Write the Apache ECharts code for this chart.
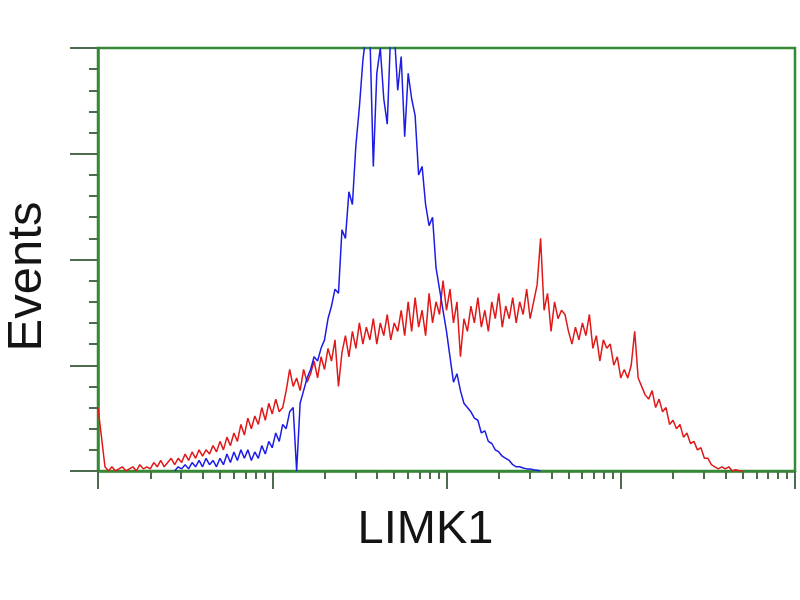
<!DOCTYPE html>
<html><head><meta charset="utf-8">
<script src="https://cdn.jsdelivr.net/npm/echarts@6/dist/echarts.min.js"></script>
<style>html,body{margin:0;padding:0;background:#fff}#c{width:800px;height:600px}</style>
</head><body><div id="c"></div>
<script>
// Histogram channels (0..199) spanning 4 log decades (1 .. 10^4)
const channelCount = 200;
const redStart = 0;
const redValues = [
15,8,1,0,1,0,0.5,1,0,0.5, 1,0,1.5,0.5,1,0.5,2,1,2.5,1,
2,3,1.5,3,2,4,2.5,4.5,3,5, 3.5,5,4,6,4.5,7,5,8,6,9,
7,11,8.5,12.5,10,13,11,15,12,16, 13.5,17,14,15,19,24,20,22,19,24,
21,23,26,22,27,24,29,26,31,20, 28,32,27,33,29,35,30,34,31,36,
30,35,32,37,31,35,33,38,32,40, 33,41,34,38,32,42,35,40,37,45,
38,43,35,40,27,36,33,39,35,41, 34,38,33,40,36,42,34,39,36,41,
35,40,37,43,36,40,44,55,38,42, 33,40,36,38,37,33,30,34,31,35,
32,37,29,32,26,31,29,30,25,27, 22,24,22,25,33,22,20,18,17,19,
15,17,14,15,11,12,10,11,8,9, 6.5,7,5,5.5,3,3,1.5,1,0.5,1,
0.5,1,0,0.3,0,0
];
const blueStart = 22;
const blueValues = [
0,1,0.5,1.5,0.5,2,1,2.5,1,3, 1.5,2.5,1,3,1.5,4,2,4.5,2.5,5,
3,5,2.5,4.5,3,6,4,7,5.5,9, 7,11,10,14,15,0,16,19,22,24,
27,26,29,31,36,39,43,42,57,55, 66,63,77,86,97,104,104,72,94,100,
88,82,104,104,90,98,79,94,88,84, 70,72,63,58,60,48,43,38,33,27,
21,23,19,16,15,14,12.5,12,9,9.5, 7,6.5,5,4.5,3.5,3,2.5,1.5,1,1,
0.7,0.5,0.5,0.3,0.2,0
];
const majorDecades = [1, 10, 100, 1000, 10000];
const minorMultipliers = [2,3,4,5,6,7,8,9];
const yTicks = [0, 25, 50, 75, 100];

const toPairs = (start, arr) => arr.map((v, i) => [start + i, v]);
const minorValues = [];
majorDecades.slice(0, -1).forEach(d => minorMultipliers.forEach(m => minorValues.push(d * m)));

const green = '#358a35';
const tickColor = '#4d6b4d';
const chart = echarts.init(document.getElementById('c'));
chart.setOption({
  animation: false,
  backgroundColor: '#fff',
  grid: {left: 98, right: 5, top: 48, bottom: 129, outerBoundsMode: 'none', containLabel: false,
         show: true, borderColor: green, borderWidth: 2.5, backgroundColor: 'transparent'},
  xAxis: [
    {type: 'value', min: 0, max: channelCount, show: false},
    {type: 'log', logBase: 10, min: majorDecades[0], max: majorDecades[majorDecades.length-1], position: 'bottom',
     name: 'LIMK1', nameLocation: 'middle', nameGap: 36,
     nameTextStyle: {fontFamily: 'Liberation Sans', fontSize: 47, color: '#141414', padding: [0, 42, 0, 0]},
     axisLine: {show: true, lineStyle: {color: green, width: 2.5}},
     axisTick: {show: true, length: 18, lineStyle: {color: tickColor, width: 2}, customValues: majorDecades},
     axisLabel: {show: false}, splitLine: {show: false}},
    {type: 'log', logBase: 10, min: majorDecades[0], max: majorDecades[majorDecades.length-1], position: 'bottom',
     axisLine: {show: false},
     axisTick: {show: true, length: 8, lineStyle: {color: tickColor, width: 2}, customValues: minorValues},
     axisLabel: {show: false}, splitLine: {show: false}}
  ],
  yAxis: [{
    type: 'value', min: yTicks[0], max: yTicks[yTicks.length-1], interval: 25,
    name: 'Events', nameLocation: 'middle', nameGap: 46,
    nameTextStyle: {fontFamily: 'Liberation Sans', fontSize: 49, color: '#141414', padding: [0, 34, 0, 0]},
    axisLine: {show: true, lineStyle: {color: green, width: 2.5}},
    axisTick: {show: true, length: 28, lineStyle: {color: tickColor, width: 2}},
    minorTick: {show: true, splitNumber: 5, length: 9, lineStyle: {color: tickColor, width: 2}},
    axisLabel: {show: false}, splitLine: {show: false}
  }],
  series: [
    {type: 'line', xAxisIndex: 0, data: toPairs(redStart, redValues), showSymbol: false, symbol: 'none',
     lineStyle: {color: '#e01818', width: 1.5}, clip: true, z: 3},
    {type: 'line', xAxisIndex: 0, data: toPairs(blueStart, blueValues), showSymbol: false, symbol: 'none',
     lineStyle: {color: '#1c1ce6', width: 1.5}, clip: true, z: 4}
  ]
});
</script></body></html>
